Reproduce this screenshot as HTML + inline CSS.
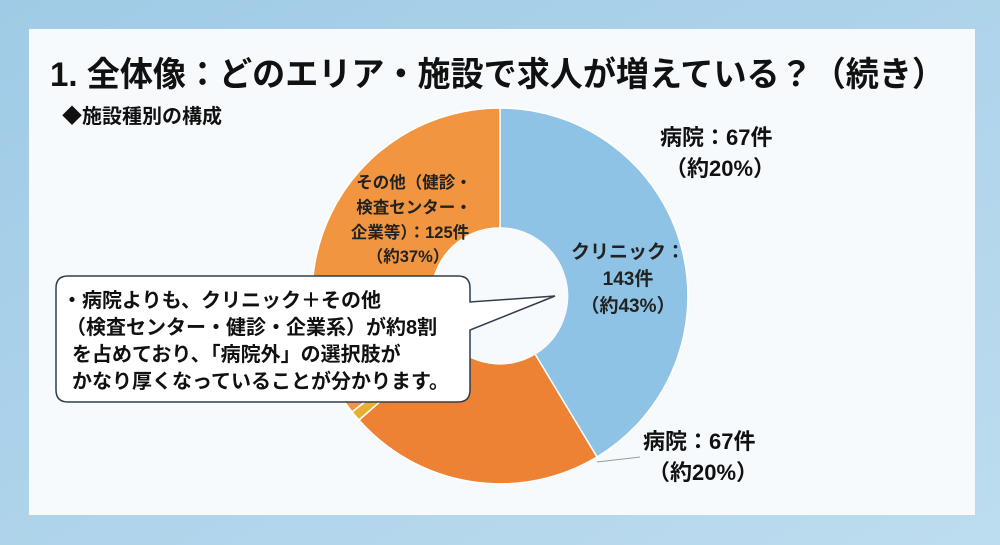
<!DOCTYPE html>
<html><head><meta charset="utf-8"><style>
html,body{margin:0;padding:0;width:1000px;height:545px;overflow:hidden;background:#a9d2ea;}
svg{display:block;font-family:"Liberation Sans","Noto Sans CJK JP",sans-serif;font-weight:bold;}
</style></head><body>
<svg width="1000" height="545" viewBox="0 0 1000 545">
<defs><linearGradient id="bg" x1="0" y1="0" x2="1" y2="1">
<stop offset="0" stop-color="#9fcbe6"/><stop offset="1" stop-color="#bddcef"/></linearGradient></defs>
<rect width="1000" height="545" fill="url(#bg)"/>
<rect x="29" y="29" width="946" height="486" fill="#f7fafc"/>
<text x="50" y="86" font-size="34" fill="#111" textLength="895" lengthAdjust="spacingAndGlyphs">1.  全体像：どのエリア・施設で求人が増えている？（続き）</text>
<text x="62" y="123" font-size="20" fill="#111">◆施設種別の構成</text>
<g stroke="#fff" stroke-width="1.5">
<path d="M500,108 A188,188 0 0 1 597,457 L535,354 A68,68 0 0 0 500,228 Z" fill="#8fc3e6"/>
<path d="M597,457 A188,188 0 0 1 359,420 L449,341 A68,68 0 0 0 535,354 Z" fill="#ee8234"/>
<path d="M359,420 A188,188 0 0 1 352,412 L446,338 A68,68 0 0 0 449,341 Z" fill="#e8b030"/>
<path d="M352,412 A188,188 0 0 1 500,108 L500,228 A68,68 0 0 0 446,338 Z" fill="#f19540"/>
</g>
<circle cx="500" cy="296" r="68" fill="#f7fafc"/>
<g font-size="19" fill="#222" text-anchor="middle">
<text x="628" y="258">クリニック：</text>
<text x="628" y="285">143件</text>
<text x="628" y="312">（約43%）</text>
<text x="414" y="188" font-size="16.5">その他（健診・</text>
<text x="414" y="213" font-size="16.5">検査センター・</text>
<text x="410" y="238" font-size="16.5">企業等）：125件</text>
<text x="408" y="262" font-size="16.5">（約37%）</text>
</g>
<g font-size="22" fill="#111">
<text x="660" y="145">病院：67件</text>
<text x="665" y="176">（約20%）</text>
<text x="643" y="449">病院：67件</text>
<text x="648" y="480">（約20%）</text>
</g>
<line x1="597" y1="462" x2="640" y2="457" stroke="#999" stroke-width="1"/>
<path d="M68,276 H458 Q470,276 470,288 V302 L555,296 L470,330 V390 Q470,402 458,402 H68 Q56,402 56,390 V288 Q56,276 68,276 Z" fill="#fff" stroke="#2f3d4c" stroke-width="1.5"/>
<g font-size="20" fill="#111">
<text x="62" y="307">・病院よりも、クリニック＋その他</text>
<text x="66" y="334">（検査センター・健診・企業系）が約8割</text>
<text x="72" y="361">を占めており、「病院外」の選択肢が</text>
<text x="72" y="388">かなり厚くなっていることが分かります。</text>
</g>
</svg>
</body></html>
